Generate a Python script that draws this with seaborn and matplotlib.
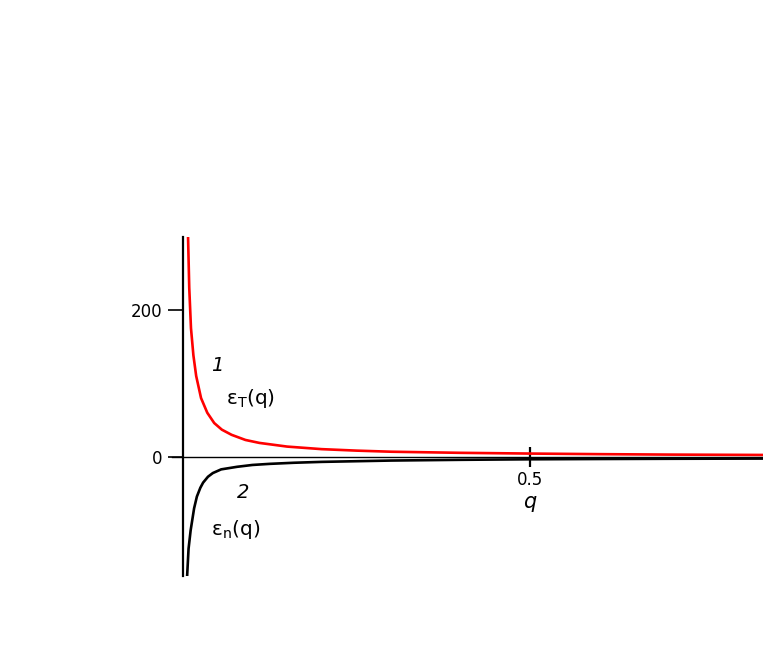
import pandas as pd
import matplotlib.pyplot as plt
import seaborn as sns

# curve 1: eps_T(q)
q_t = [0.006, 0.009, 0.0115, 0.015, 0.019, 0.026, 0.035, 0.045, 0.056, 0.07, 0.09, 0.11,
       0.15, 0.2, 0.25, 0.3, 0.4, 0.5, 0.6, 0.7, 0.84]
eps_t = [350, 230, 175, 138, 110, 80, 60, 46, 37, 30, 23, 19,
         14, 10.5, 8.5, 7, 5.5, 4.5, 3.7, 3.1, 2.6]

# curve 2: eps_n(q)
q_n = [0.0055, 0.008, 0.011, 0.013, 0.016, 0.02, 0.025, 0.029, 0.036, 0.043,
       0.055, 0.078, 0.1, 0.125, 0.16, 0.2, 0.3, 0.4, 0.5, 0.6, 0.7, 0.84]
eps_n = [-170, -125, -100, -88, -70, -54, -42, -35, -27, -22,
         -17, -13.5, -11, -9.5, -8, -6.8, -5, -4, -3.3, -2.9, -2.6, -2.3]

x_ticks = [0.5]
x_tick_labels = ['0.5']
y_ticks = [0, 200]
y_tick_labels = ['0', '200']

df_t = pd.DataFrame({'q': q_t, 'eps': eps_t})
df_n = pd.DataFrame({'q': q_n, 'eps': eps_n})

sns.set_style('white')
plt.rcParams['font.family'] = ['DejaVu Sans']
plt.rcParams['text.color'] = 'black'

fig = plt.figure(figsize=(7.63, 6.54), dpi=100)
ax = fig.add_axes([183 / 763, 78 / 654, 580 / 763, 339 / 654])

sns.lineplot(data=df_t, x='q', y='eps', color='#ff0000', lw=1.9, ax=ax)
sns.lineplot(data=df_n, x='q', y='eps', color='black', lw=1.9, ax=ax)

ax.set_xlim(0, 0.836)
ax.set_ylim(-162, 299)

for s in ['top', 'right']:
    ax.spines[s].set_visible(False)
ax.spines['bottom'].set_position(('data', 0))
ax.spines['bottom'].set_linewidth(1.0)
ax.spines['bottom'].set_bounds(-0.016, 0.836)
ax.spines['left'].set_linewidth(1.6)
ax.spines['left'].set_color('black')
ax.spines['bottom'].set_color('black')

ax.set_xticks(x_ticks)
ax.set_xticklabels(x_tick_labels)
ax.set_yticks(y_ticks)
ax.set_yticklabels(y_tick_labels)
ax.tick_params(axis='x', bottom=True, direction='inout', length=14, width=1.6, pad=3,
               labelsize=12, colors='black')
ax.tick_params(axis='y', left=True, direction='out', length=11, width=1.2, pad=4,
               labelsize=12, colors='black')
ax.set_xlabel('')
ax.set_ylabel('')

ax.text(0.5, -61, 'q', style='italic', fontsize=15, ha='center', va='center', color='black')
ax.text(0.049, 124, '1', style='italic', fontsize=14, ha='center', va='center', color='black')
ax.text(0.097, 79, r'ε$_{\rm T}$(q)', fontsize=14.5, ha='center', va='center', color='black')
ax.text(0.087, -49, '2', style='italic', fontsize=14, ha='center', va='center', color='black')
ax.text(0.076, -99, r'ε$_{\rm n}$(q)', fontsize=14.5, ha='center', va='center', color='black')

fig.savefig('out.png', dpi=100)
